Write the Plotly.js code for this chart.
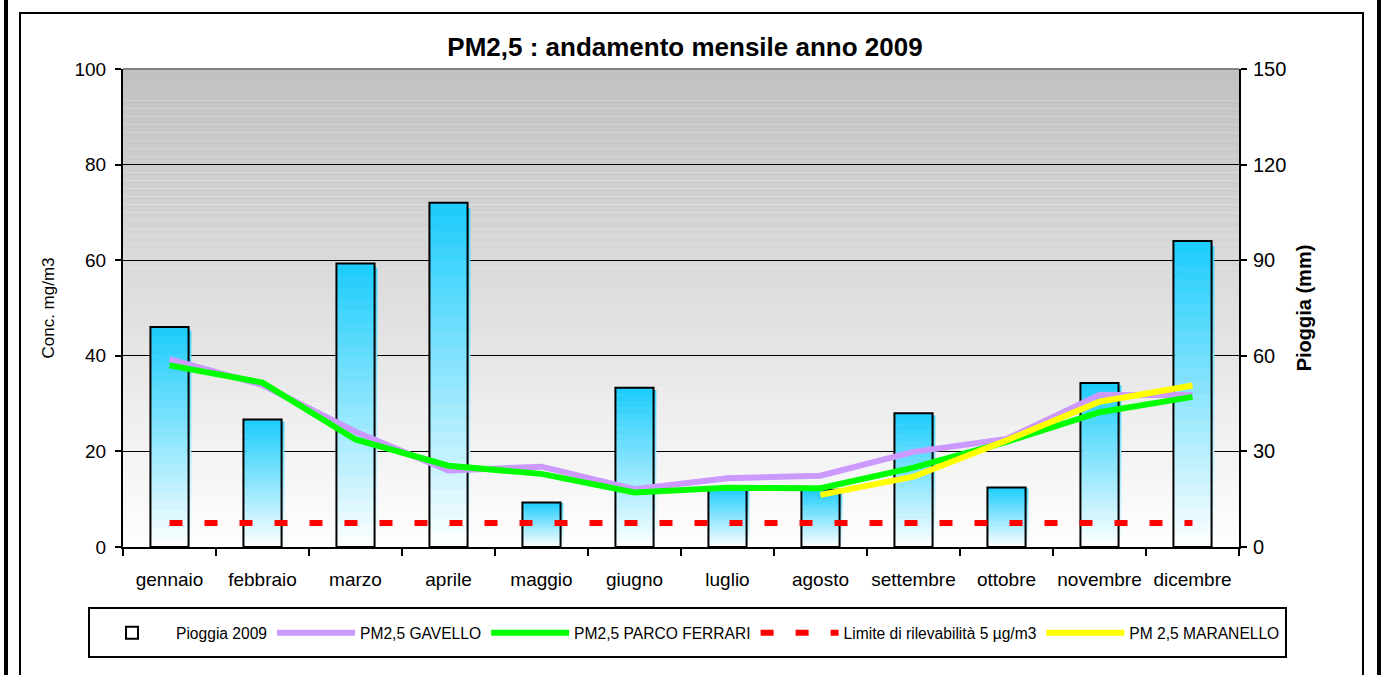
<!DOCTYPE html>
<html>
<head>
<meta charset="utf-8">
<script src="https://cdn.plot.ly/plotly-3.0.1.min.js"></script>
<style>
  html, body { margin: 0; padding: 0; background: #fff; }
  #wrap { position: relative; width: 1382px; height: 675px; overflow: hidden; }
  #chart { position: absolute; left: 0; top: 0; width: 1382px; height: 675px; }
  .frame { position: absolute; pointer-events: none; box-sizing: border-box; }
</style>
</head>
<body>
<div id="wrap">
  <div id="chart"></div>
  <div class="frame" style="left:4px;top:0;width:4px;height:675px;background:#000;"></div>
  <div class="frame" style="left:1377px;top:0;width:4px;height:675px;background:#000;"></div>
  <div class="frame" style="left:19px;top:12px;width:1345px;height:700px;border:2px solid #000;border-bottom:none;"></div>
  <div class="frame" style="left:88px;top:607px;width:1199px;height:51px;border:2px solid #000;"></div>
</div>
<script>
// ---- data ----
const months = ['gennaio','febbraio','marzo','aprile','maggio','giugno','luglio','agosto','settembre','ottobre','novembre','dicembre'];
const pioggia = [69, 40, 89, 108, 14, 50, 18.5, 18, 42, 18.7, 51.5, 96];
const gavello = [39.3, 33.9, 24.1, 16.0, 16.8, 12.1, 14.4, 14.9, 19.9, 22.6, 31.8, 31.8];
const parcoFerrari = [38.0, 34.4, 22.5, 17.0, 15.3, 11.4, 12.4, 12.3, 16.6, 22.0, 28.2, 31.4];
const limite = [5, 5, 5, 5, 5, 5, 5, 5, 5, 5, 5, 5];
const maranello = [null, null, null, null, null, null, null, 10.9, 14.7, 22.3, 30.4, 33.8];

// ---- styling helpers ----
const FONT = 'Liberation Sans, Arial, sans-serif';
const NSEG = 24;
const BARW = 0.41;
const barTopColor = [26, 204, 252];
function mix(t) {
  const c = barTopColor.map(v => Math.round(255 + (v - 255) * t));
  return 'rgb(' + c.join(',') + ')';
}

const traces = [];
// shadow (slightly offset) gradient segments
for (let k = 0; k < NSEG; k++) {
  const t = (k + 0.5) / NSEG;
  traces.push({
    type: 'bar', x: months, yaxis: 'y',
    y: pioggia.map(v => v * 0.985 / NSEG),
    base: pioggia.map(v => v * 0.985 * k / NSEG),
    width: BARW, offset: -BARW / 2 + 0.03,
    marker: { color: mix(Math.min(1, t * 0.85)), line: { width: 0 } },
    showlegend: false, hoverinfo: 'skip'
  });
}
// main gradient segments
for (let k = 0; k < NSEG; k++) {
  const t = (k + 0.5) / NSEG;
  traces.push({
    type: 'bar', x: months, yaxis: 'y',
    y: pioggia.map(v => v / NSEG),
    base: pioggia.map(v => v * k / NSEG),
    width: BARW, offset: -BARW / 2,
    marker: { color: mix(t), line: { width: 0 } },
    showlegend: false, hoverinfo: 'skip'
  });
}
// outline
traces.push({
  type: 'bar', x: months, y: pioggia, yaxis: 'y', name: 'Pioggia 2009',
  width: BARW, offset: -BARW / 2,
  marker: { color: 'rgba(0,0,0,0)', line: { color: '#000', width: 2 } }
});
traces.push({ type: 'scatter', mode: 'lines', x: months, y: gavello, yaxis: 'y2',
  name: 'PM2,5 GAVELLO', line: { color: '#CC99FF', width: 6 } });
traces.push({ type: 'scatter', mode: 'lines', x: months, y: parcoFerrari, yaxis: 'y2',
  name: 'PM2,5 PARCO FERRARI', line: { color: '#00FF00', width: 6 } });
traces.push({ type: 'scatter', mode: 'lines', x: months, y: limite, yaxis: 'y2',
  name: 'Limite di rilevabilità 5 µg/m3', line: { color: '#FF0000', width: 6, dash: '13px,22px' } });
traces.push({ type: 'scatter', mode: 'lines', x: months, y: maranello, yaxis: 'y2',
  name: 'PM 2,5 MARANELLO', line: { color: '#FFFF00', width: 6 }, connectgaps: false });

// background gradient bands
const shapes = [];
const NB = 60;
for (let i = 0; i < NB; i++) {
  const t = (i + 0.5) / NB; // 0 bottom -> 1 top
  const g = Math.round(255 - (255 - 192) * t);
  shapes.push({ type: 'rect', xref: 'paper', yref: 'paper', x0: 0, x1: 1,
    y0: i / NB, y1: (i + 1) / NB, fillcolor: 'rgb(' + g + ',' + g + ',' + g + ')',
    line: { width: 0 }, layer: 'below' });
}
shapes.push({ type: 'line', xref: 'paper', yref: 'paper', x0: 0, x1: 1, y0: 1, y1: 1,
  line: { color: '#808080', width: 2 }, layer: 'above' });

const layout = {
  width: 1382, height: 675,
  margin: { l: 123, r: 143, t: 69, b: 128, autoexpand: false },
  paper_bgcolor: '#ffffff', plot_bgcolor: 'rgba(0,0,0,0)',
  font: { family: FONT, color: '#000' },
  barmode: 'overlay',
  showlegend: true,
  title: { text: 'PM2,5 : andamento mensile anno 2009', font: { family: FONT, size: 26, weight: 'bold', color: '#000' },
    x: 0.5 + 4 / 1116, xref: 'paper', y: 1 - 47 / 675, yref: 'container', yanchor: 'middle' },
  xaxis: {
    type: 'category', range: [-0.5, 11.5], tickson: 'boundaries', tickangle: 0,
    ticks: 'outside', ticklen: 7, tickwidth: 2, tickcolor: '#000',
    showline: true, linecolor: '#000', linewidth: 2, showgrid: false,
    tickfont: { family: FONT, size: 19, color: '#000' }, ticklabelstandoff: 14,
    fixedrange: true
  },
  yaxis: {
    side: 'right', range: [0, 150], tickvals: [0, 30, 60, 90, 120, 150],
    showgrid: true, gridcolor: '#000', gridwidth: 1, zeroline: false,
    showline: true, linecolor: '#000', linewidth: 2,
    ticks: 'outside', ticklen: 6, tickwidth: 2, tickcolor: '#000',
    tickfont: { family: FONT, size: 20, color: '#000' }, ticklabelstandoff: 2,
    title: { text: 'Pioggia (mm)', font: { family: FONT, size: 20, weight: 'bold', color: '#000' }, standoff: 12 },
    fixedrange: true
  },
  yaxis2: {
    overlaying: 'y', side: 'left', range: [0, 100], tickvals: [0, 20, 40, 60, 80, 100],
    showgrid: false, zeroline: false,
    showline: true, linecolor: '#000', linewidth: 2,
    ticks: 'outside', ticklen: 6, tickwidth: 2, tickcolor: '#000',
    tickfont: { family: FONT, size: 19, color: '#000' }, ticklabelstandoff: 5,
    title: { text: 'Conc. mg/m3', font: { family: FONT, size: 17, color: '#000' }, standoff: 16 },
    fixedrange: true
  },
  legend: {
    orientation: 'h', x: (88 - 123) / 1116, xanchor: 'left', y: (547 - 616) / 478, yanchor: 'top',
    font: { family: FONT, size: 15.6, color: '#000' }, bgcolor: 'rgba(0,0,0,0)', borderwidth: 0,
    itemwidth: 78, valign: 'middle', traceorder: 'normal'
  },
  shapes: shapes
};

Plotly.newPlot('chart', traces, layout, { staticPlot: true });
</script>
</body>
</html>
